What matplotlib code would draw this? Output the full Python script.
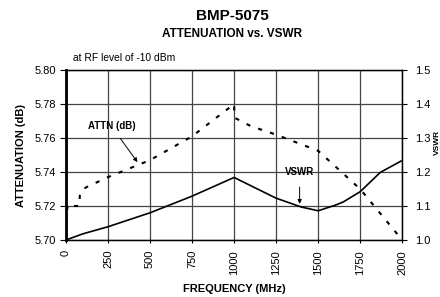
import matplotlib
matplotlib.use("Agg")
import matplotlib.pyplot as plt

plt.rcParams['font.family'] = ['Liberation Sans', 'DejaVu Sans']

# attenuation curve (left axis, dB)
attn_freq = [0, 5, 12, 50, 80, 82, 90, 120, 250, 500, 750, 1000,
             1002, 1100, 1250, 1500, 1750, 2000]
attn_db = [5.710, 5.717, 5.721, 5.720, 5.720, 5.726, 5.729, 5.731, 5.737,
           5.747, 5.761, 5.780, 5.772, 5.767, 5.762, 5.7525, 5.730, 5.700]

# VSWR curve (right axis)
vswr_freq = [0, 100, 250, 500, 750, 1000, 1250, 1400, 1500, 1600, 1650,
             1750, 1870, 2000]
vswr = [1.000, 1.018, 1.039, 1.080, 1.129, 1.184, 1.123, 1.097, 1.086,
        1.102, 1.112, 1.142, 1.199, 1.234]

x_ticks = [0, 250, 500, 750, 1000, 1250, 1500, 1750, 2000]
left_ticks = [5.70, 5.72, 5.74, 5.76, 5.78, 5.80]
right_ticks = [1.0, 1.1, 1.2, 1.3, 1.4, 1.5]

fig = plt.figure(figsize=(4.4, 2.97), dpi=100)
ax = fig.add_axes([0.15, 0.192, 0.764, 0.572])
ax2 = ax.twinx()

ax.set_xlim(0, 2000)
ax.set_ylim(5.70, 5.80)
ax2.set_ylim(1.0, 1.5)

ax.set_xticks(x_ticks)
ax.set_xticklabels([str(t) for t in x_ticks], rotation=90)
ax.set_yticks(left_ticks)
ax.set_yticklabels([f'{t:.2f}' for t in left_ticks])
ax2.set_yticks(right_ticks)
ax2.set_yticklabels([f'{t:.1f}' for t in right_ticks])

ax.grid(True, color='#444444', linewidth=0.9)
for a in (ax, ax2):
    for s in a.spines.values():
        s.set_linewidth(0.9)
ax.spines['left'].set_linewidth(2)
ax.tick_params(axis='x', labelsize=8, length=2.2, width=0.8, pad=5)
ax.tick_params(axis='y', labelsize=8, length=4.3, width=0.8, pad=3)
ax2.tick_params(axis='y', labelsize=8, length=3.6, width=0.8, pad=6)

ax.plot(attn_freq, attn_db, color='black', linewidth=1.5,
        linestyle=(0, (2, 4)), zorder=3)
ax2.plot(vswr_freq, vswr, color='black', linewidth=1.2, zorder=3)

ax.annotate('ATTN (dB)', xy=(435, 5.7445), xytext=(270, 5.767),
            fontsize=7, fontweight='bold', ha='center', va='center',
            arrowprops=dict(arrowstyle='-|>', color='black', lw=0.7,
                            mutation_scale=6, shrinkA=4))
ax2.annotate('VSWR', xy=(1390, 1.098), xytext=(1390, 1.199),
             fontsize=7, fontweight='bold', ha='center', va='center',
             arrowprops=dict(arrowstyle='-|>', color='black', lw=0.7,
                             mutation_scale=6, shrinkA=5))

ax.set_xlabel('FREQUENCY (MHz)', fontsize=8, fontweight='bold', labelpad=7)
ax.set_ylabel('ATTENUATION (dB)', fontsize=8, fontweight='bold', labelpad=6)
# right axis label sits at the very edge, as in the reference
fig.text(0.9935, 0.52, 'VSWR', fontsize=6, fontweight='bold',
         rotation=90, ha='center', va='center')

fig.text(0.527, 0.945, 'BMP-5075', fontsize=11, fontweight='bold',
         ha='center', va='center')
fig.text(0.527, 0.885, 'ATTENUATION vs. VSWR', fontsize=8.5,
         fontweight='bold', ha='center', va='center')
fig.text(0.165, 0.805, 'at RF level of -10 dBm', fontsize=7.4,
         ha='left', va='center')

fig.savefig('out.png', dpi=100)
